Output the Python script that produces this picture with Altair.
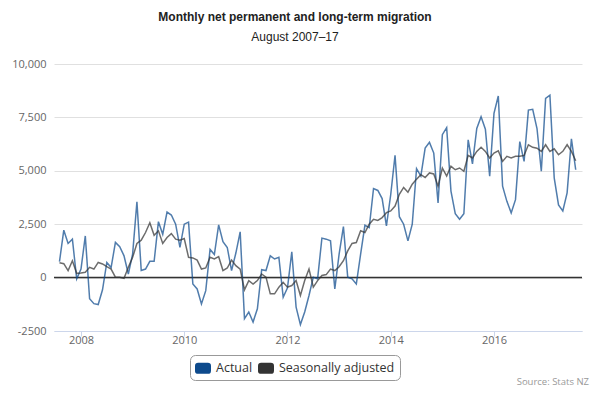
import altair as alt
import pandas as pd

# ---- data ----
months = pd.period_range("2007-08", "2017-08", freq="M")

actual = [
    750, 2220, 1600, 1800, -60, 400, 1950, -990, -1220, -1260, -570, 710,
    470, 1650, 1450, 1020, 170, 1100, 3550, 330, 400, 760, 760, 2620,
    2030, 3070, 2930, 2500, 1410, 2500, 2600, -300, -530, -1230, -610, 1320,
    1080, 2470, 1680, 1410, 330, 1150, 2140, -1920, -1610, -2080, -1460, 370,
    330, 1020, 870, 950, -920, -480, 1210, -1380, -2200, -1610, -840, 20,
    -60, 1850, 1800, 1720, -530, 1100, 2390, 20, -60, -300, 1100, 2450,
    2340, 4170, 4080, 3700, 2420, 3890, 5720, 2850, 2500, 1720, 2500, 5100,
    4750, 6060, 6330, 5830, 3500, 6690, 7020, 4050, 2990, 2730, 2990, 6450,
    5320, 6980, 7530, 6950, 4750, 7690, 8500, 4280, 3570, 3030, 3650, 6370,
    5440, 7840, 7880, 6980, 4980, 8390, 8540, 4670, 3400, 3120, 3970, 6500,
    5050,
]

seasonal = [
    700, 650, 330, 790, 200, 220, 250, 480, 400, 710, 640, 510,
    400, 20, 20, -30, 480, 950, 1600, 1750, 2110, 2570, 1980, 2190,
    1600, 1880, 2060, 1800, 1750, 1830, 950, 920, 820, 400, 450, 950,
    870, 980, 330, 450, 820, 560, 400, -570, -140, -300, -140, 170,
    20, -760, -760, -450, -220, -450, -370, -140, -840, -140, 400, -450,
    -140, 100, 140, 400, 330, 510, 790, 1250, 1600, 1640, 2190, 2110,
    2500, 2730, 2680, 2810, 3040, 3120, 3350, 3900, 4220, 4000, 4370, 4610,
    4820, 4690, 4900, 4850, 4280, 5130, 4750, 5210, 5050, 5130, 4980, 5720,
    5600, 5910, 6100, 5910, 5600, 5830, 5940, 5440, 5680, 5600, 5680, 5680,
    5720, 6220, 6100, 6060, 5910, 6220, 5910, 6030, 5750, 5910, 6220, 5910,
    5470,
]

series_names = ["Actual", "Seasonally adjusted"]
series_colors = ["#0d4a8c", "#333333"]
y_ticks = [-2500, 0, 2500, 5000, 7500, 10000]
x_ticks = [2008, 2010, 2012, 2014, 2016]

TITLE = "Monthly net permanent and long-term migration"
SUBTITLE = "August 2007\u201317"
SOURCE = "Source: Stats NZ"

# ---- build table ----
t = [p.year + (p.month - 1) / 12 for p in months]
df = pd.concat([
    pd.DataFrame({"t": t, "value": actual, "series": series_names[0]}),
    pd.DataFrame({"t": t, "value": seasonal, "series": series_names[1]}),
], ignore_index=True)

W, H = 528, 267
AXFONT = "Open Sans"

x_enc = alt.X(
    "t:Q",
    scale=alt.Scale(domain=[2007.477, 2017.705], nice=False, zero=False),
    axis=alt.Axis(values=x_ticks, format="d", title=None, grid=False,
                  domainColor="#ccd6eb", domainWidth=1, tickColor="#ccd6eb",
                  tickSize=5, labelColor="#666666", labelFont=AXFONT,
                  labelFontSize=11, labelBaseline="alphabetic", labelPadding=7,
                  zindex=1),
)
y_enc = alt.Y(
    "value:Q",
    scale=alt.Scale(domain=[-2500, 10000], nice=False),
    axis=alt.Axis(values=y_ticks, title=None, domain=False, ticks=False,
                  gridColor="#e0e0e0", gridWidth=1, labelColor="#666666",
                  labelFont=AXFONT, labelFontSize=11, labelPadding=8,
                  labelExpr="datum.value < 0 ? '-2500' : format(datum.value, ',')"),
)
color_scale = alt.Scale(domain=series_names, range=series_colors)

ROUNDED = ("M-0.6,-0.7 L0.6,-0.7 Q1,-0.7 1,-0.3 L1,0.3 Q1,0.7 0.6,0.7 "
           "L-0.6,0.7 Q-1,0.7 -1,0.3 L-1,-0.3 Q-1,-0.7 -0.6,-0.7 Z")

# legend carrier: filled symbols, no drawn marks
legend_layer = alt.Chart(df).transform_filter("false").mark_point(
    filled=True, opacity=1, shape=ROUNDED
).encode(
    x=x_enc, y=y_enc,
    color=alt.Color(
        "series:N", scale=color_scale,
        legend=alt.Legend(
            title=None, orient="none", legendX=136, legendY=291,
            direction="horizontal", symbolType=ROUNDED, symbolSize=256,
            symbolStrokeWidth=0, symbolOpacity=1, labelFont=AXFONT,
            labelFontSize=12.5, labelColor="#333333", strokeColor="#999999",
            fillColor="#ffffff", cornerRadius=5, padding=5, columnPadding=5,
            labelOffset=5,
        ),
    ),
)

zero = alt.Chart(pd.DataFrame({"v": [0]})).mark_rule(
    color="#333333", strokeWidth=1.5
).encode(y=alt.Y("v:Q"))

lines = alt.Chart(df).mark_line(strokeWidth=1.5, strokeOpacity=0.72).encode(
    x=x_enc,
    y=y_enc,
    color=alt.Color("series:N", scale=color_scale, legend=None),
)

def text_layer(txt, x, y, **kw):
    return alt.Chart(pd.DataFrame({"txt": [txt]})).mark_text(**kw).encode(
        text="txt:N", x=alt.value(x), y=alt.value(y))

TFONT = "Liberation Sans"
title = text_layer(TITLE, 241, -47, font=TFONT, fontSize=12, fontWeight="bold",
                   color="#222222", align="center", baseline="middle")
subtitle = text_layer(SUBTITLE, 241, -27.5, font=TFONT, fontSize=12,
                      color="#222222", align="center", baseline="middle")
source = text_layer(SOURCE, 535, 318, font=AXFONT, fontSize=9.5, color="#999999",
                    align="right", baseline="middle")

chart = alt.layer(legend_layer, zero, lines, title, subtitle, source).properties(
    width=W, height=H,
    autosize=alt.AutoSizeParams(type="none"),
    padding={"left": 46, "top": 56, "right": 10, "bottom": 58},
).configure_view(stroke=None)

chart.save("out.html", embed_options={"renderer": "svg", "actions": False})
